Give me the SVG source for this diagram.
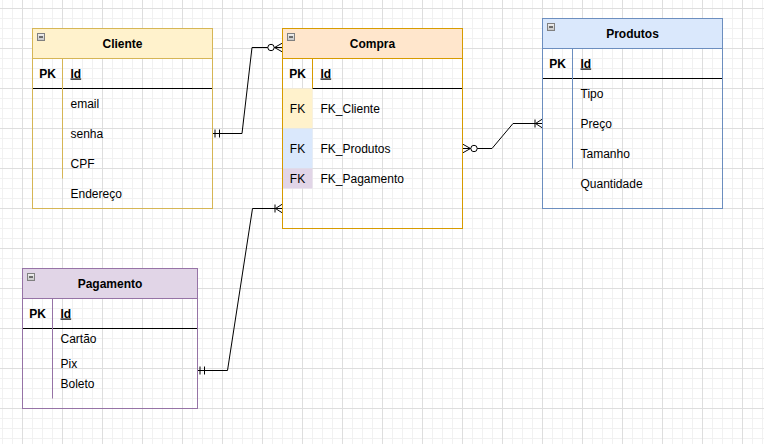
<svg xmlns="http://www.w3.org/2000/svg" width="764" height="444" viewBox="0 0 764 444">
<defs>
<pattern id="grid" patternUnits="userSpaceOnUse" x="22" y="8" width="40" height="40">
<rect width="40" height="40" fill="#ffffff"/>
<path d="M10.5 0V40M20.5 0V40M30.5 0V40M0 10.5H40M0 20.5H40M0 30.5H40" stroke="#f1f1f1" stroke-width="1" fill="none"/>
<path d="M0.5 0V40M0 0.5H40" stroke="#dedede" stroke-width="1" fill="none"/>
</pattern>
<linearGradient id="icong" x1="0" y1="0" x2="0" y2="1">
<stop offset="0" stop-color="#f2f2f2"/>
<stop offset="1" stop-color="#c4c4c4"/>
</linearGradient>
<g id="icon">
<rect x="0.5" y="0.5" width="7" height="7" fill="url(#icong)" stroke="#808080" stroke-width="1"/>
<path d="M2 4H6" stroke="#000" stroke-width="1"/>
</g>
<marker id="mandOne" markerUnits="userSpaceOnUse" orient="auto-start-reverse" refX="0" refY="0" markerWidth="20" markerHeight="20" overflow="visible">
<path d="M-2.5,-4V4M-7,-4V4" stroke="#000" stroke-width="1" fill="none"/>
</marker>
<marker id="zeroMany" markerUnits="userSpaceOnUse" orient="auto-start-reverse" refX="0" refY="0" markerWidth="20" markerHeight="20" overflow="visible">
<path d="M0,-4.5L-8,0L0,4.5" stroke="#000" stroke-width="1" fill="none"/>
<circle cx="-11.5" cy="0" r="3.2" fill="#fff" stroke="#000" stroke-width="1"/>
</marker>
<marker id="oneMany" markerUnits="userSpaceOnUse" orient="auto-start-reverse" refX="0" refY="0" markerWidth="20" markerHeight="20" overflow="visible">
<path d="M0,-4.5L-7,0L0,4.5M-7.5,-4V4" stroke="#000" stroke-width="1" fill="none"/>
</marker>
</defs>
<style>
text{font-family:"Liberation Sans",Arial,Helvetica,sans-serif;font-size:12px;fill:#000}
.title{font-weight:bold;text-anchor:middle}
.pk{font-weight:bold;text-anchor:middle}
.fk{text-anchor:middle}
.id{font-weight:bold;text-decoration:underline}
.line{stroke:#000;stroke-width:1;fill:none}
.conn{stroke:#000;stroke-width:1;fill:none}
</style>
<rect x="0" y="0" width="764" height="444" fill="url(#grid)"/>

<g id="connectors">
<path class="conn" d="M212.5,133.5H242L252,47.5H282.5" marker-start="url(#mandOne)" marker-end="url(#zeroMany)"/>
<path class="conn" d="M462.5,148.5H492L513,123.5H542.5" marker-start="url(#zeroMany)" marker-end="url(#oneMany)"/>
<path class="conn" d="M197.5,370.5H227.5L252.5,208.5H282.5" marker-start="url(#mandOne)" marker-end="url(#oneMany)"/>
</g>

<g id="cliente">
<rect x="32.5" y="28.5" width="180" height="30" fill="#fff2cc"/>
<path class="line" d="M32.5,88.5H212.5"/>
<path d="M62.5,58.5V178.5" stroke="#d6b656" fill="none"/>
<rect x="32.5" y="28.5" width="180" height="180" fill="none" stroke="#d6b656"/>
<path d="M32.5,58.5H212.5" stroke="#d6b656" fill="none"/>
<use href="#icon" x="37" y="33"/>
<text class="title" x="122.5" y="47.5">Cliente</text>
<text class="pk" x="47.5" y="77.5">PK</text>
<text class="id" x="70.5" y="77.5">Id</text>
<text x="70.5" y="107.5">email</text>
<text x="70.5" y="137.5">senha</text>
<text x="70.5" y="167.5">CPF</text>
<text x="70.5" y="197.5">Endereço</text>
</g>

<g id="compra">
<rect x="282.5" y="28.5" width="180" height="30" fill="#ffe6cc"/>
<rect x="282.5" y="88.5" width="30" height="40" fill="#fff2cc"/>
<rect x="282.5" y="128.5" width="30" height="40" fill="#dae8fc"/>
<rect x="282.5" y="168.5" width="30" height="20" fill="#e1d5e7"/>
<path class="line" d="M312.5,88.5H462.5"/>
<path d="M312.5,58.5V88.5" stroke="#d79b00" fill="none"/>
<rect x="282.5" y="28.5" width="180" height="200" fill="none" stroke="#d79b00"/>
<path d="M282.5,58.5H462.5" stroke="#d79b00" fill="none"/>
<use href="#icon" x="287" y="33"/>
<text class="title" x="372.5" y="47.5">Compra</text>
<text class="pk" x="297.5" y="77.5">PK</text>
<text class="id" x="320.5" y="77.5">Id</text>
<text class="fk" x="297.5" y="112.5">FK</text>
<text x="320.5" y="112.5">FK_Cliente</text>
<text class="fk" x="297.5" y="152.5">FK</text>
<text x="320.5" y="152.5">FK_Produtos</text>
<text class="fk" x="297.5" y="182.5">FK</text>
<text x="320.5" y="182.5">FK_Pagamento</text>
</g>

<g id="produtos">
<rect x="542.5" y="18.5" width="180" height="30" fill="#dae8fc"/>
<path class="line" d="M542.5,78.5H722.5"/>
<path d="M572.5,48.5V168.5" stroke="#6c8ebf" fill="none"/>
<rect x="542.5" y="18.5" width="180" height="190" fill="none" stroke="#6c8ebf"/>
<path d="M542.5,48.5H722.5" stroke="#6c8ebf" fill="none"/>
<use href="#icon" x="547" y="23"/>
<text class="title" x="632.5" y="37.5">Produtos</text>
<text class="pk" x="557.5" y="67.5">PK</text>
<text class="id" x="580.5" y="67.5">Id</text>
<text x="580.5" y="97.5">Tipo</text>
<text x="580.5" y="127.5">Preço</text>
<text x="580.5" y="157.5">Tamanho</text>
<text x="580.5" y="187.5">Quantidade</text>
</g>

<g id="pagamento">
<rect x="22.5" y="268.5" width="175" height="30" fill="#e1d5e7"/>
<path class="line" d="M22.5,328.5H197.5"/>
<path d="M52.5,298.5V398.5" stroke="#9673a6" fill="none"/>
<rect x="22.5" y="268.5" width="175" height="140" fill="none" stroke="#9673a6"/>
<path d="M22.5,298.5H197.5" stroke="#9673a6" fill="none"/>
<use href="#icon" x="27" y="273"/>
<text class="title" x="110" y="287.5">Pagamento</text>
<text class="pk" x="37.5" y="317.5">PK</text>
<text class="id" x="60.5" y="317.5">Id</text>
<text x="60.5" y="343">Cartão</text>
<text x="60.5" y="368">Pix</text>
<text x="60.5" y="388">Boleto</text>
</g>
</svg>
